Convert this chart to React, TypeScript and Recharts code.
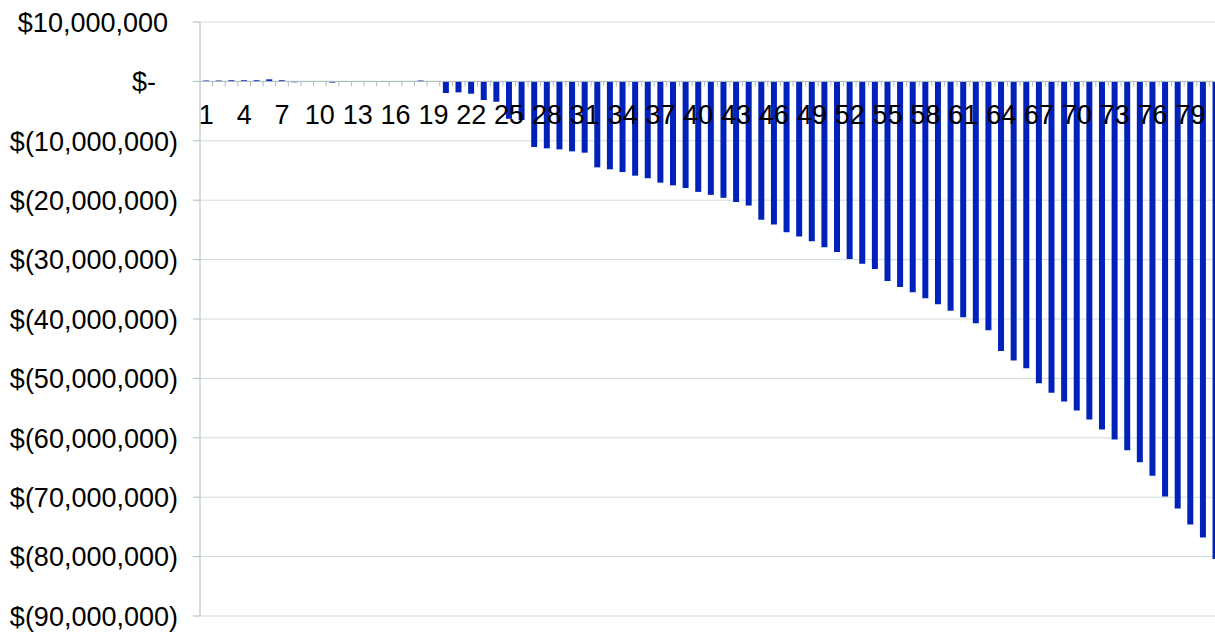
import { BarChart, Bar, XAxis, YAxis, CartesianGrid, ReferenceLine } from "recharts";

// period numbers along the bottom axis
const PERIODS = [
  1, 2, 3, 4, 5, 6, 7, 8, 9, 10, 11, 12, 13, 14, 15, 16, 17, 18, 19, 20,
  21, 22, 23, 24, 25, 26, 27, 28, 29, 30, 31, 32, 33, 34, 35, 36, 37, 38, 39, 40,
  41, 42, 43, 44, 45, 46, 47, 48, 49, 50, 51, 52, 53, 54, 55, 56, 57, 58, 59, 60,
  61, 62, 63, 64, 65, 66, 67, 68, 69, 70, 71, 72, 73, 74, 75, 76, 77, 78, 79, 80, 81,
];

// cumulative value, in millions of dollars
const VALUES_M = [
  0.15, 0.15, 0.2, 0.2, 0.2, 0.35, 0.2, -0.15, -0.02, 0, -0.2, -0.1, 0, 0, -0.08, 0, 0, 0.15, 0, -1.95,
  -1.85, -2.07, -3.14, -3.42, -6.3, -6.5, -11.05, -11.27, -11.44, -11.78, -12.0, -14.47, -14.8, -15.26, -15.87, -16.3, -17.05, -17.5, -17.95, -18.6,
  -19.1, -19.6, -20.3, -20.9, -23.3, -24.07, -25.4, -26.1, -26.9, -27.9, -28.7, -29.9, -30.7, -31.6, -33.6, -34.6, -35.5, -36.5, -37.5, -38.6,
  -39.7, -40.7, -41.9, -45.4, -47.0, -48.3, -50.8, -52.4, -53.9, -55.4, -56.9, -58.6, -60.3, -62.1, -64.1, -66.4, -69.9, -71.9, -74.6, -76.8, -80.4,
];

const Y_TICKS = [10e6, 0, -10e6, -20e6, -30e6, -40e6, -50e6, -60e6, -70e6, -80e6, -90e6];

const data = PERIODS.map((p, i) => ({ period: p, value: VALUES_M[i] * 1e6 }));

const W = 1222;
const H = 634;
const M = { top: 22, right: 0, bottom: 8, left: 0 };
const X_AXIS_H = 10;
const Y_AXIS_W = 200;
const PLOT_H = H - M.top - M.bottom - X_AXIS_H;
const PLOT_W = W - M.left - M.right - Y_AXIS_W;
const ZERO_Y = M.top + PLOT_H * (10 / 100);
const BAND = PLOT_W / PERIODS.length;

const GRID = "#d2dbd9";
const AXIS = "#aebdbb";
const FONT = "'Liberation Sans', Arial, sans-serif";

const money = (v: number) => {
  if (v === 0) return "$-";
  const s = Math.abs(v).toLocaleString("en-US");
  return v < 0 ? `$(${s})` : `$${s}`;
};

function YTick({ x, y, payload }: any) {
  const v = payload.value as number;
  const shift = v < 0 ? 15 : v > 0 ? 25 : 37;
  return (
    <text x={x - shift} y={y} textAnchor="end" dy="0.36em" fontFamily={FONT} fontSize={27} fill="#000">
      {money(v)}
    </text>
  );
}

function XTick({ x, payload, index }: any) {
  const bx = x - BAND / 2;
  return (
    <g>
      {index > 0 && <line x1={bx} x2={bx} y1={ZERO_Y} y2={ZERO_Y + 5} stroke={AXIS} />}
      {index % 3 === 0 && (
        <text x={x} y={ZERO_Y + 43} textAnchor="middle" fontFamily={FONT} fontSize={27} fill="#000">
          {payload.value}
        </text>
      )}
    </g>
  );
}

export default function App() {
  return (
    <div style={{ position: "absolute", left: 0, top: 0, width: 1215, height: H, overflow: "hidden", background: "#fff" }}>
      <BarChart width={W} height={H} data={data} margin={M} barCategoryGap="25%">
        <CartesianGrid vertical={false} stroke={GRID} />
        <YAxis type="number" domain={[-90e6, 10e6]} ticks={Y_TICKS} width={Y_AXIS_W} interval={0}
          axisLine={{ stroke: AXIS }} tickLine={{ stroke: AXIS }} tickSize={7} tickMargin={0} tick={<YTick />} />
        <ReferenceLine y={0} stroke={AXIS} />
        <Bar dataKey="value" fill="#0022bb" isAnimationActive={false} />
        <XAxis dataKey="period" height={X_AXIS_H} axisLine={false} tickLine={false} interval={0} tick={<XTick />} />
      </BarChart>
    </div>
  );
}
